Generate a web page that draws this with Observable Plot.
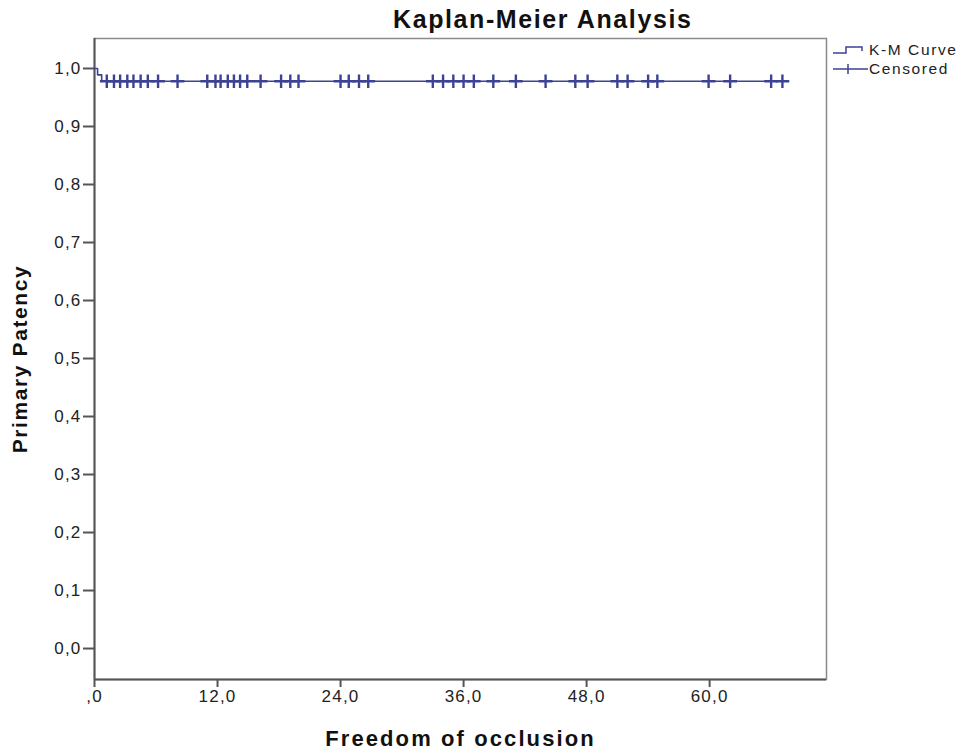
<!DOCTYPE html>
<html>
<head>
<meta charset="utf-8">
<script src="https://cdn.jsdelivr.net/npm/d3@7"></script>
<script src="https://cdn.jsdelivr.net/npm/@observablehq/plot@0.6"></script>
<style>
  html, body { margin: 0; padding: 0; background: #fff; }
  body { width: 964px; height: 753px; position: relative; overflow: hidden; font-family: "Liberation Sans", Arial, sans-serif; }
  #title { position: relative; height: 34px; }
  #title span { position: absolute; left: 393px; top: 5px; font-size: 25px; letter-spacing: 1.6px; font-weight: bold; color: #111; white-space: nowrap; }
  #legend { position: absolute; left: 831px; top: 40px; font-size: 15.5px; letter-spacing: 1.6px; color: #222; }
  #legend div { display: flex; align-items: center; height: 19px; }
  #legend svg { margin-right: 1px; }
  #chart svg { display: block; }
  #chart svg [aria-label="x-axis tick label"] text,
  #chart svg [aria-label="y-axis tick label"] text { letter-spacing: 1.2px; }
</style>
</head>
<body>
<div id="title"><span>Kaplan-Meier Analysis</span></div>
<div id="chart"></div>
<div id="legend">
  <div><svg width="37" height="19"><path d="M2 13 H15 V7 H31 V11" fill="none" stroke="#3d4394" stroke-width="1.5"/></svg>K-M Curve</div>
  <div><svg width="37" height="19"><path d="M2 10 H37 M17 5 V15" fill="none" stroke="#3d4394" stroke-width="1.5"/></svg>Censored</div>
</div>
<script>
// Kaplan-Meier step curve (time in months, survival proportion)
const kmTimes = [0, 0.3, 0.7, 67.1];
const kmSurvival = [1.0, 0.989, 0.978, 0.978];

// censored observation times
const censoredTimes = [1.2, 1.9, 2.5, 3.2, 3.8, 4.5, 5.2, 6.2, 8.1, 11.0, 11.8, 12.3, 13.0, 13.6,
  14.2, 14.9, 16.2, 18.2, 19.1, 19.9, 24.0, 24.8, 25.8, 26.7, 33.0, 34.0, 35.0, 36.0, 37.0,
  38.9, 41.1, 44.0, 46.9, 48.1, 51.0, 52.0, 54.0, 54.9, 59.9, 62.0, 66.0, 67.1];

const xTicks = [0, 12, 24, 36, 48, 60];
const yTicks = [0, 0.1, 0.2, 0.3, 0.4, 0.5, 0.6, 0.7, 0.8, 0.9, 1.0];
const xDomain = [0, 71.4];
const yDomain = [-0.0534, 1.0517];

const km = kmTimes.map((t, i) => ({t, s: kmSurvival[i]}));
const survAt = t => {
  let s = kmSurvival[0];
  kmTimes.forEach((kt, i) => { if (kt <= t) s = kmSurvival[i]; });
  return s;
};
const censored = censoredTimes.map(t => ({t, s: survAt(t)}));

const color = "#3d4394";
const fmtY = d => d.toFixed(1).replace(".", ",");
const fmtX = d => d === 0 ? ",0" : d.toFixed(1).replace(".", ",");

const chart = Plot.plot({
  width: 964,
  height: 719,
  marginLeft: 94,
  marginRight: 138,
  marginTop: 4,
  marginBottom: 74,
  style: {fontFamily: "'Liberation Sans', Arial, sans-serif", fontSize: "17px", color: "#222", background: "#fff"},
  x: {domain: xDomain, ticks: xTicks, tickFormat: fmtX, tickSize: 8, label: null},
  y: {domain: yDomain, ticks: yTicks, tickFormat: fmtY, tickSize: 11, label: null},
  marks: [
    Plot.frame({stroke: "#8a8a8a", strokeWidth: 1.5}),
    Plot.ruleX([xDomain[0]], {stroke: "#555", strokeWidth: 2}),
    Plot.ruleY([yDomain[0]], {stroke: "#555", strokeWidth: 2}),
    Plot.axisX({ticks: xTicks, tickFormat: fmtX, tickSize: 8, tickPadding: 2, stroke: "#555", strokeWidth: 2,
      label: "Freedom of occlusion", labelAnchor: "center", labelArrow: "none", labelOffset: 66}),
    Plot.axisY({ticks: yTicks, tickFormat: fmtY, tickSize: 11, tickPadding: 2, stroke: "#555", strokeWidth: 2,
      label: "Primary Patency", labelAnchor: "center", labelArrow: "none", labelOffset: 82}),
    Plot.line(km, {x: "t", y: "s", curve: "step-after", stroke: color, strokeWidth: 1.6}),
    Plot.dot(censored, {x: "t", y: "s", symbol: "plus", r: 4.5, stroke: color, strokeWidth: 2.4})
  ]
});
document.getElementById("chart").appendChild(chart);

// bold axis labels
chart.querySelectorAll("[aria-label='x-axis label'] text").forEach(t => {
  t.style.fontWeight = "bold";
  t.style.fontSize = "22px";
  t.style.letterSpacing = "2.1px";
  t.style.fill = "#111";
});
chart.querySelectorAll("[aria-label='y-axis label'] text").forEach(t => {
  t.style.fontWeight = "bold";
  t.style.fontSize = "21px";
  t.style.letterSpacing = "1.6px";
  t.style.fill = "#111";
});
</script>
</body>
</html>
